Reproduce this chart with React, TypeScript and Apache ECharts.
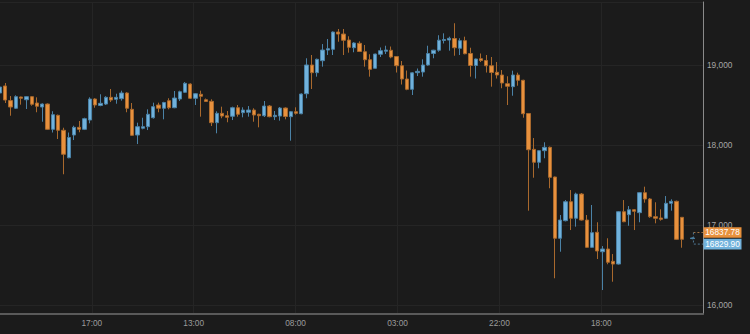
import React, { useEffect, useRef } from 'react';
import * as echarts from 'echarts';

// Hourly candles (index positions on the category axis); index 130 has no candle.
const categories: string[] = Array.from({ length: 134 }, (_, i) => `c${i}`);

const opens: (number | null)[] = [
  18650, 18738, 18555, 18459, 18600, 18566, 18604, 18525, 18475, 18512,
  18196, 18371, 18184, 17841, 18125, 18221, 18196, 18312, 18575, 18494,
  18512, 18596, 18571, 18579, 18650, 18446, 18125, 18209, 18229, 18341,
  18500, 18459, 18554, 18466, 18575, 18659, 18762, 18584, 18634, 18566,
  18546, 18279, 18396, 18366, 18359, 18466, 18404, 18409, 18437, 18384,
  18366, 18487, 18354, 18362, 18462, 18354, 18416, 18391, 18641, 19000,
  18904, 19054, 19187, 19196, 19412, 19387, 19312, 19216, 19271, 19166,
  19066, 18959, 19134, 19172, 19184, 19106, 18991, 18825, 18696, 18904,
  18912, 19000, 19144, 19185, 19306, 19312, 19331, 19209, 19304, 19144,
  18994, 19079, 19056, 18991, 18909, 18875, 18766, 18729, 18875, 18809,
  18394, 17946, 17784, 17929, 17971, 17600, 16834, 17054, 17291, 17084,
  17387, 17062, 16721, 16909, 16666, 16700, 16546, 16512, 17166, 17129,
  17191, 17154, 17404, 17325, 17104, 17087, 17084, 17271, 17296, 17096,
  null, 16829.9,
];
const closes: (number | null)[] = [
  18725, 18562, 18475, 18604, 18584, 18604, 18509, 18484, 18512, 18196,
  18379, 18184, 17884, 18094, 18221, 18196, 18329, 18575, 18500, 18521,
  18596, 18562, 18596, 18650, 18459, 18121, 18229, 18229, 18384, 18479,
  18459, 18531, 18466, 18587, 18666, 18771, 18584, 18641, 18609, 18544,
  18279, 18396, 18362, 18346, 18466, 18384, 18437, 18437, 18375, 18366,
  18487, 18354, 18371, 18462, 18356, 18416, 18396, 18637, 19000, 18904,
  19071, 19187, 19204, 19412, 19387, 19309, 19221, 19275, 19169, 19066,
  18946, 19137, 19179, 19187, 19100, 18991, 18825, 18696, 18902, 18921,
  19000, 19144, 19185, 19310, 19319, 19334, 19216, 19304, 19141, 18994,
  19075, 19056, 18990, 18906, 18875, 18775, 18734, 18875, 18809, 18391,
  17941, 17784, 17929, 17971, 17596, 16834, 17062, 17291, 17084, 17387,
  17062, 16721, 16904, 16675, 16700, 16534, 16512, 17166, 17041, 17191,
  17171, 17404, 17325, 17104, 17084, 17071, 17271, 17296, 16821, 16821,
  null, 16837.78,
];
const lows: (number | null)[] = [
  18640, 18525, 18366, 18450, 18504, 18450, 18491, 18409, 18291, 18190,
  18156, 18075, 17634, 17834, 18062, 18159, 18187, 18271, 18466, 18484,
  18500, 18537, 18516, 18554, 18409, 18115, 18012, 18196, 18187, 18330,
  18409, 18321, 18446, 18460, 18550, 18650, 18575, 18500, 18354, 18541,
  18237, 18146, 18334, 18284, 18312, 18354, 18346, 18354, 18291, 18221,
  18350, 18346, 18312, 18304, 18321, 18054, 18379, 18385, 18584, 18700,
  18854, 18979, 19125, 19125, 19291, 19125, 19154, 19159, 19162, 18979,
  18854, 18954, 19100, 19137, 19084, 18906, 18756, 18685, 18625, 18862,
  18854, 18991, 19084, 19166, 19269, 19179, 19116, 19125, 19134, 18854,
  18831, 19037, 18906, 18729, 18831, 18709, 18500, 18616, 18741, 18341,
  17179, 17591, 17709, 17834, 17459, 16334, 16666, 17045, 16937, 16979,
  17055, 16715, 16715, 16575, 16187, 16509, 16291, 16505, 17035, 16991,
  16937, 17034, 17279, 17090, 17021, 17054, 17075, 17179, 16815, 16716,
  null, 16822,
];
const highs: (number | null)[] = [
  18740, 18775, 18612, 18621, 18604, 18610, 18610, 18596, 18520, 18520,
  18422, 18380, 18216, 18156, 18241, 18300, 18341, 18596, 18584, 18634,
  18610, 18700, 18641, 18679, 18660, 18525, 18279, 18341, 18446, 18529,
  18529, 18540, 18584, 18675, 18679, 18787, 18771, 18650, 18679, 18581,
  18571, 18421, 18479, 18425, 18479, 18500, 18471, 18487, 18459, 18390,
  18550, 18500, 18425, 18475, 18470, 18425, 18471, 18645, 19084, 19125,
  19080, 19262, 19325, 19420, 19450, 19450, 19359, 19285, 19296, 19250,
  19134, 19141, 19219, 19241, 19231, 19112, 19050, 18931, 18910, 18956,
  19071, 19241, 19190, 19372, 19396, 19354, 19522, 19334, 19354, 19216,
  19080, 19144, 19125, 19100, 19037, 18937, 18859, 18929, 18904, 18815,
  18400, 18087, 17937, 18034, 17980, 17605, 17125, 17312, 17437, 17404,
  17400, 17125, 17250, 17034, 16737, 16834, 16637, 17175, 17312, 17237,
  17200, 17410, 17479, 17337, 17284, 17196, 17362, 17321, 17305, 17100,
  null, 16845,
];

const xTickLabels: string[] = ['17:00', '13:00', '08:00', '03:00', '22:00', '18:00'];
const askPrice = 16837.78;
const bidPrice = 16829.9;
const lastIndex = 131;

const ORANGE = '#e8913d';
const ORANGE_EDGE = '#a9692d';
const BLUE = '#71b2dc';
const BLUE_EDGE = '#4b82a6';
const GRID = '#252525';
const BG = '#1b1b1b';
const FONT = '"Liberation Sans", Arial, sans-serif';
const FS = 8.3;

// label axis (grid 1): starts at the first time tick, in pixel-like units
const LABEL_LEFT = 91.8;
const LABEL_STEP = 101.9;
const LABEL_MAX = 703 - LABEL_LEFT;

export default function App() {
  const ref = useRef<HTMLDivElement>(null);

  useEffect(() => {
    if (!ref.current) return;
    const chart = echarts.init(ref.current, undefined, { renderer: 'svg' });

    const data = opens.map((o, i) =>
      o == null ? '-' : [o, closes[i] as number, lows[i] as number, highs[i] as number]
    );

    chart.setOption({
      animation: false,
      backgroundColor: BG,
      grid: [
        { left: 0, right: 47, top: 2, bottom: 20 },
        { left: LABEL_LEFT, right: 47, top: 2, bottom: 20 },
      ],
      xAxis: [
        {
          type: 'category',
          gridIndex: 0,
          data: categories,
          boundaryGap: false,
          axisLine: { show: true, lineStyle: { color: '#5a5a5a', width: 2 } },
          axisTick: { show: false },
          axisLabel: { show: false },
          splitLine: { show: false },
        },
        {
          type: 'value',
          gridIndex: 1,
          min: 0,
          max: LABEL_MAX,
          interval: LABEL_STEP,
          axisLine: { show: false },
          axisTick: { show: false },
          splitLine: { show: true, lineStyle: { color: GRID, width: 1 } },
          axisLabel: {
            color: '#9c9c9c',
            fontSize: FS,
            fontFamily: FONT,
            margin: 5,
            showMinLabel: true,
            formatter: (v: number) => {
              const k = Math.round(v / LABEL_STEP);
              if (Math.abs(v - k * LABEL_STEP) > 0.5) return '';
              return xTickLabels[k] || '';
            },
          },
        },
      ],
      yAxis: [
        {
          type: 'value',
          gridIndex: 0,
          position: 'right',
          min: 15887.5,
          max: 19787.5,
          minInterval: 1000,
          maxInterval: 1000,
          axisLine: { show: true, lineStyle: { color: '#8a8a8a', width: 1 } },
          axisTick: { show: false },
          splitLine: { show: true, lineStyle: { color: GRID, width: 1 } },
          axisLabel: {
            color: '#a6a6a6',
            fontSize: FS,
            fontFamily: FONT,
            margin: 4,
            formatter: (v: number) => (v % 1000 === 0 ? v.toLocaleString('en-US') : ''),
          },
        },
        { type: 'value', gridIndex: 1, show: false, min: 0, max: 1, splitLine: { show: false } },
      ],
      series: [
        {
          type: 'candlestick',
          xAxisIndex: 0,
          yAxisIndex: 0,
          data,
          barWidth: 3.8,
          clip: true,
          itemStyle: {
            color: BLUE,
            color0: ORANGE,
            borderColor: BLUE_EDGE,
            borderColor0: ORANGE_EDGE,
            borderWidth: 1,
          },
        },
      ],
    });

    const [cx, yAsk] = chart.convertToPixel({ gridIndex: 0 }, [lastIndex, askPrice]) as number[];
    const [, yBid] = chart.convertToPixel({ gridIndex: 0 }, [lastIndex, bidPrice]) as number[];
    const [xRight] = chart.convertToPixel({ gridIndex: 0 }, [categories.length - 1, askPrice]) as number[];
    const mid = (yAsk + yBid) / 2;
    const h = 10.6;
    const w = 38;
    const askTop = mid - 0.5 - h;
    const bidTop = mid + 0.5;
    const askMid = askTop + h / 2;
    const bidMid = bidTop + h / 2;
    const lx = xRight + 0.5;

    chart.setOption({
      graphic: [
        {
          type: 'polyline',
          z: 100,
          shape: { points: [[cx + 1, askMid], [xRight, askMid]] },
          style: { stroke: '#a07040', lineWidth: 1, lineDash: [2, 2], fill: null },
        },
        {
          type: 'polyline',
          z: 100,
          shape: { points: [[cx + 1, askMid], [cx + 1, bidMid], [xRight, bidMid]] },
          style: { stroke: '#4f7894', lineWidth: 1, lineDash: [2, 2], fill: null },
        },
        {
          type: 'rect',
          z: 101,
          shape: { x: lx, y: askTop, width: w, height: h },
          style: { fill: ORANGE },
        },
        {
          type: 'text',
          z: 102,
          x: lx + w / 2,
          y: askMid,
          style: {
            text: askPrice.toFixed(2),
            fill: '#ffffff',
            fontSize: FS,
            fontFamily: FONT,
            align: 'center',
            verticalAlign: 'middle',
          },
        },
        {
          type: 'rect',
          z: 101,
          shape: { x: lx, y: bidTop, width: w, height: h },
          style: { fill: BLUE },
        },
        {
          type: 'text',
          z: 102,
          x: lx + w / 2,
          y: bidMid,
          style: {
            text: bidPrice.toFixed(2),
            fill: '#ffffff',
            fontSize: FS,
            fontFamily: FONT,
            align: 'center',
            verticalAlign: 'middle',
          },
        },
      ],
    });

    return () => chart.dispose();
  }, []);

  return (
    <div
      ref={ref}
      style={{ position: 'fixed', left: 0, top: 0, width: 750, height: 334, background: BG }}
    />
  );
}
